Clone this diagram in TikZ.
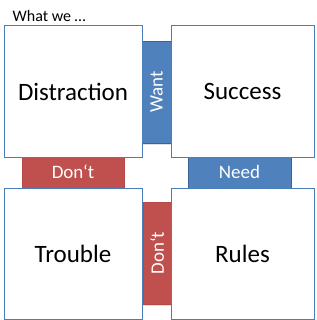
\documentclass[tikz,border=0pt]{standalone}
\usepackage{fontspec}
\setmainfont{Carlito}
\usetikzlibrary{shadows}
\definecolor{boxblue}{HTML}{4A7EBB}
\definecolor{barblue}{HTML}{4F81BD}
\definecolor{barblueedge}{HTML}{3A6496}
\definecolor{barred}{HTML}{C0504D}
\definecolor{barrededge}{HTML}{B44A47}
\begin{document}
\begin{tikzpicture}[x=1pt,y=-1pt,
  quad/.style={draw=boxblue, line width=1pt, fill=white, inner sep=0pt,
    minimum height=131pt, font=\fontsize{25}{30}\selectfont},
  bar/.style={inner sep=0pt, text=white, font=\fontsize{19}{22}\selectfont,
    drop shadow={shadow xshift=0pt, shadow yshift=-2pt, opacity=0.25}},
  bluebar/.style={bar, fill=barblue, draw=barblueedge, line width=0.8pt},
  redbar/.style={bar, fill=barred, draw=barrededge, line width=0.6pt}]
\useasboundingbox (0,0) rectangle (316,320);
\fill[white] (0,0) rectangle (316,320);
% connecting bars (behind the boxes)
\node[bluebar, rotate=90, minimum width=102pt, minimum height=29pt] (want) at (156.5,92) {Want};
\node[redbar, minimum width=102pt, minimum height=33pt] (dont1) at (73,171.5) {Don‘t};
\node[bluebar, minimum width=103pt, minimum height=33pt] (need) at (239.5,171.5) {Need};
\node[redbar, rotate=90, minimum width=102pt, minimum height=28pt] (dont2) at (157,253) {Don‘t};
% quadrant boxes
\node[quad, minimum width=138pt] (distraction) at (73,91.5) {Distraction};
\node[quad, minimum width=143pt] (success) at (242.5,91.5) {Success};
\node[quad, minimum width=138pt] (trouble) at (73,253.5) {Trouble};
\node[quad, minimum width=143pt] (rules) at (242.5,253.5) {Rules};
% title
\node[anchor=base west, inner sep=0pt, font=\fontsize{16}{19}\selectfont] (title) at (12.5,22) {What we …};
\end{tikzpicture}
\end{document}
